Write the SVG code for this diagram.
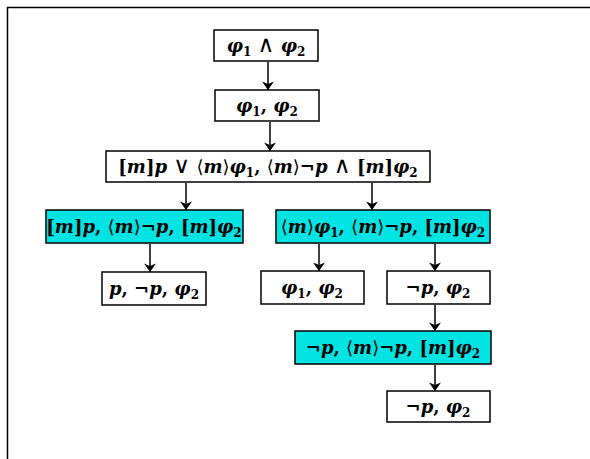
<svg xmlns="http://www.w3.org/2000/svg" width="590" height="459" viewBox="0 0 590 459">
  <style>
    .box { fill: #ffffff; stroke: #000000; stroke-width: 1.5; }
    .hi { fill: #00e3e3; stroke: #000000; stroke-width: 1.5; }
    .t { font-family: "DejaVu Serif", "Liberation Serif", serif; font-size: 18px; font-weight: bold; text-anchor: middle; fill: #000; }
    .i { font-style: italic; }
    .s { font-size: 12px; }
    .op { font-weight: normal; }
    .lg { font-family: "DejaVu Sans", sans-serif; font-size: 23px; font-weight: normal; }
    .edge { stroke: #000; stroke-width: 1.5; fill: none; marker-end: url(#arrow); }
  </style>
  <defs>
    <marker id="arrow" viewBox="0 0 10 14" refX="10" refY="7" markerWidth="9" markerHeight="12" markerUnits="userSpaceOnUse" orient="auto">
      <path d="M0,0 L10,7 L0,14 L3,7 Z" fill="#000"/>
    </marker>
  </defs>
  <rect width="590" height="459" fill="#ffffff"/>
  <!-- outer frame, open to the right and bottom -->
  <path d="M7.5,459 V7.5 H590" fill="none" stroke="#000" stroke-width="1.5"/>

  <g id="connectors">
    <line class="edge" x1="268" y1="62" x2="268" y2="90"/>
    <line class="edge" x1="270" y1="122" x2="270" y2="151"/>
    <line class="edge" x1="186" y1="183" x2="186" y2="210"/>
    <line class="edge" x1="372" y1="183" x2="372" y2="210"/>
    <line class="edge" x1="150" y1="244" x2="150" y2="272"/>
    <line class="edge" x1="319" y1="244" x2="319" y2="271"/>
    <line class="edge" x1="435" y1="244" x2="435" y2="271"/>
    <line class="edge" x1="435" y1="305" x2="435" y2="331"/>
    <line class="edge" x1="435" y1="365" x2="435" y2="391"/>
  </g>

  <g id="n1">
    <rect class="box" x="214" y="30" width="104" height="31"/>
    <text class="t" x="266" y="52"><tspan class="i">φ</tspan><tspan class="s" baseline-shift="-4">1</tspan> <tspan class="lg">∧</tspan> <tspan class="i">φ</tspan><tspan class="s" baseline-shift="-4">2</tspan></text>
  </g>
  <g id="n2">
    <rect class="box" x="215" y="90" width="104" height="31"/>
    <text class="t" x="267" y="112"><tspan class="i">φ</tspan><tspan class="s" baseline-shift="-4">1</tspan>, <tspan class="i">φ</tspan><tspan class="s" baseline-shift="-4">2</tspan></text>
  </g>
  <g id="n3">
    <rect class="box" x="106" y="151" width="324" height="31"/>
    <text class="t" x="268" y="173">[<tspan class="i">m</tspan>]<tspan class="i">p</tspan> <tspan class="lg">∨</tspan> <tspan class="op">⟨</tspan><tspan class="i">m</tspan><tspan class="op">⟩</tspan><tspan class="i">φ</tspan><tspan class="s" baseline-shift="-4">1</tspan>, <tspan class="op">⟨</tspan><tspan class="i">m</tspan><tspan class="op">⟩</tspan>¬<tspan class="i">p</tspan> <tspan class="lg">∧</tspan> [<tspan class="i">m</tspan>]<tspan class="i">φ</tspan><tspan class="s" baseline-shift="-4">2</tspan></text>
  </g>
  <g id="n4">
    <rect class="hi" x="46" y="210" width="197" height="33"/>
    <text class="t" x="144" y="233">[<tspan class="i">m</tspan>]<tspan class="i">p</tspan>, <tspan class="op">⟨</tspan><tspan class="i">m</tspan><tspan class="op">⟩</tspan>¬<tspan class="i">p</tspan>, [<tspan class="i">m</tspan>]<tspan class="i">φ</tspan><tspan class="s" baseline-shift="-4">2</tspan></text>
  </g>
  <g id="n5">
    <rect class="hi" x="276" y="210" width="214" height="33"/>
    <text class="t" x="383" y="233"><tspan class="op">⟨</tspan><tspan class="i">m</tspan><tspan class="op">⟩</tspan><tspan class="i">φ</tspan><tspan class="s" baseline-shift="-4">1</tspan>, <tspan class="op">⟨</tspan><tspan class="i">m</tspan><tspan class="op">⟩</tspan>¬<tspan class="i">p</tspan>, [<tspan class="i">m</tspan>]<tspan class="i">φ</tspan><tspan class="s" baseline-shift="-4">2</tspan></text>
  </g>
  <g id="n6">
    <rect class="box" x="102" y="272" width="104" height="33"/>
    <text class="t" x="154" y="295"><tspan class="i">p</tspan>, ¬<tspan class="i">p</tspan>, <tspan class="i">φ</tspan><tspan class="s" baseline-shift="-4">2</tspan></text>
  </g>
  <g id="n7">
    <rect class="box" x="261" y="271" width="103" height="33"/>
    <text class="t" x="312" y="294"><tspan class="i">φ</tspan><tspan class="s" baseline-shift="-4">1</tspan>, <tspan class="i">φ</tspan><tspan class="s" baseline-shift="-4">2</tspan></text>
  </g>
  <g id="n8">
    <rect class="box" x="387" y="271" width="103" height="33"/>
    <text class="t" x="438" y="294">¬<tspan class="i">p</tspan>, <tspan class="i">φ</tspan><tspan class="s" baseline-shift="-4">2</tspan></text>
  </g>
  <g id="n9">
    <rect class="hi" x="295" y="331" width="196" height="33"/>
    <text class="t" x="393" y="354">¬<tspan class="i">p</tspan>, <tspan class="op">⟨</tspan><tspan class="i">m</tspan><tspan class="op">⟩</tspan>¬<tspan class="i">p</tspan>, [<tspan class="i">m</tspan>]<tspan class="i">φ</tspan><tspan class="s" baseline-shift="-4">2</tspan></text>
  </g>
  <g id="n10">
    <rect class="box" x="387" y="391" width="103" height="31"/>
    <text class="t" x="438" y="413">¬<tspan class="i">p</tspan>, <tspan class="i">φ</tspan><tspan class="s" baseline-shift="-4">2</tspan></text>
  </g>
</svg>
